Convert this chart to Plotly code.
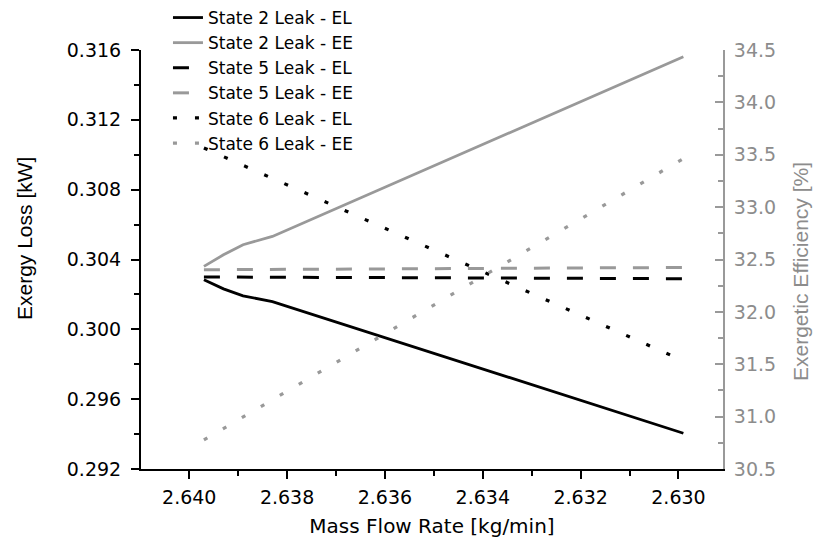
import plotly.graph_objects as go

# Mass flow rate [kg/min]
x_state2 = [2.6397, 2.6393, 2.6389, 2.6383, 2.6299]
el_state2 = [0.30284, 0.30232, 0.30192, 0.30159, 0.29405]
ee_state2 = [32.434, 32.545, 32.641, 32.720, 34.435]

x_state5 = [2.6397, 2.6299]
el_state5 = [0.30300, 0.30290]
ee_state5 = [32.402, 32.424]

x_state6 = [2.6397, 2.6299]
el_state6 = [0.31039, 0.29820]
ee_state6 = [30.777, 33.463]

names = ["State 2 Leak - EL", "State 2 Leak - EE", "State 5 Leak - EL",
         "State 5 Leak - EE", "State 6 Leak - EL", "State 6 Leak - EE"]

x_ticks = [2.640, 2.638, 2.636, 2.634, 2.632, 2.630]
y_ticks = [0.292, 0.296, 0.300, 0.304, 0.308, 0.312, 0.316]
y2_ticks = [30.5, 31.0, 31.5, 32.0, 32.5, 33.0, 33.5, 34.0, 34.5]

BLACK = "#000000"
GRAY = "#999999"
LABEL_GRAY = "#8c8c8c"
FONT = "DejaVu Sans, sans-serif"
TITLE_FONT = "Liberation Sans, Arial, sans-serif"

fig = go.Figure()
fig.add_trace(go.Scatter(x=x_state2, y=el_state2, mode="lines", name=names[0],
                         line=dict(color=BLACK, width=2.8)))
fig.add_trace(go.Scatter(x=x_state2, y=ee_state2, mode="lines", name=names[1], yaxis="y2",
                         line=dict(color=GRAY, width=2.8)))
fig.add_trace(go.Scatter(x=x_state5, y=el_state5, mode="lines", name=names[2],
                         line=dict(color=BLACK, width=3, dash="16px,17px")))
fig.add_trace(go.Scatter(x=x_state5, y=ee_state5, mode="lines", name=names[3], yaxis="y2",
                         line=dict(color=GRAY, width=3, dash="16px,17px")))
fig.add_trace(go.Scatter(x=x_state6, y=el_state6, mode="lines", name=names[4],
                         line=dict(color=BLACK, width=3.2, dash="4px,18px")))
fig.add_trace(go.Scatter(x=x_state6, y=ee_state6, mode="lines", name=names[5], yaxis="y2",
                         line=dict(color=GRAY, width=3.2, dash="4px,18px")))

fig.update_layout(
    width=813, height=542,
    margin=dict(l=141, r=90, t=50, b=73, autoexpand=False),
    paper_bgcolor="white", plot_bgcolor="white",
    font=dict(family=FONT, size=18, color="black"),
    showlegend=True,
    hovermode=False,
    legend=dict(xref="container", yref="container", x=0.2066, y=1.0,
                xanchor="left", yanchor="top",
                bgcolor="rgba(0,0,0,0)", font=dict(size=17, family=FONT),
                tracegroupgap=0),
    xaxis=dict(
        range=[2.640986, 2.62909], autorange=False,
        tickmode="array", tickvals=x_ticks,
        ticktext=[f"{v:.3f}" for v in x_ticks],
        ticks="outside", ticklen=8, tickwidth=1.5, tickcolor="black",
        minor=dict(ticks="outside", ticklen=5, tickwidth=1.5, tickcolor="black", dtick=0.001, tick0=2.630),
        showline=True, linecolor="black", linewidth=2,
        showgrid=False, zeroline=False,
        ticklabelstandoff=2,
        title=dict(text="Mass Flow Rate [kg/min]", font=dict(size=20, family=FONT), standoff=12),
        tickfont=dict(size=19),
    ),
    yaxis=dict(
        range=[0.292, 0.316], autorange=False,
        tickmode="array", tickvals=y_ticks,
        ticktext=[f"{v:.3f}" for v in y_ticks],
        ticks="outside", ticklen=8, tickwidth=1.5, tickcolor="black",
        minor=dict(ticks="outside", ticklen=5, tickwidth=1.5, tickcolor="black", dtick=0.002, tick0=0.292),
        showline=True, linecolor="black", linewidth=2,
        showgrid=False, zeroline=False,
        ticklabelstandoff=6,
        tickfont=dict(size=19),
    ),
    yaxis2=dict(
        overlaying="y", side="right",
        range=[30.5, 34.5], autorange=False,
        tickmode="array", tickvals=y2_ticks,
        ticktext=[f"{v:.1f}" for v in y2_ticks],
        ticks="inside", ticklen=8, tickwidth=1.5, tickcolor=GRAY,
        minor=dict(ticks="inside", ticklen=5, tickwidth=1.5, tickcolor=GRAY, dtick=0.25, tick0=30.5),
        showline=True, linecolor=GRAY, linewidth=2,
        showgrid=False, zeroline=False,
        ticklabelstandoff=5,
        tickfont=dict(size=19, color=LABEL_GRAY),
    ),
    annotations=[
        dict(text="Exergy Loss [kW]", xref="paper", yref="paper",
             x=(24 - 141) / 582, y=(469 - 239) / 419, textangle=-90,
             showarrow=False, xanchor="center", yanchor="middle",
             font=dict(size=21, family=TITLE_FONT, color="black")),
        dict(text="Exergetic Efficiency [%]", xref="paper", yref="paper",
             x=(800 - 141) / 582, y=(469 - 272) / 419, textangle=-90,
             showarrow=False, xanchor="center", yanchor="middle",
             font=dict(size=21, family=TITLE_FONT, color=LABEL_GRAY)),
    ],
)

fig.write_html("out.html", config={"displayModeBar": False},
               post_script="document.body.style.margin='0';")
